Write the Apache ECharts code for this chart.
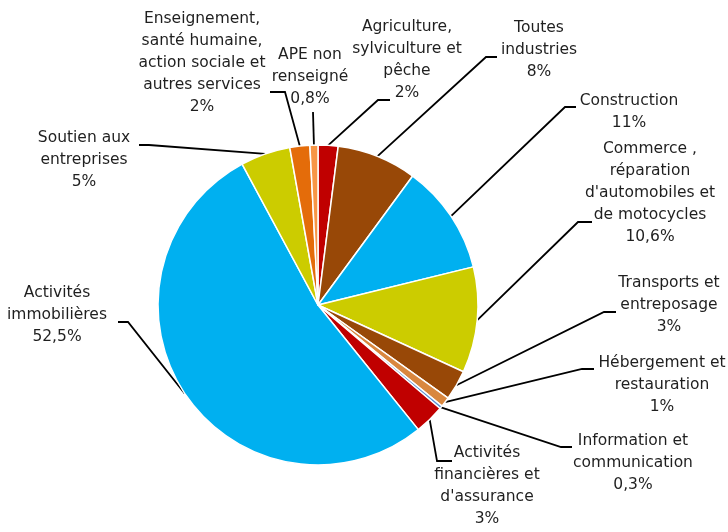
<!DOCTYPE html>
<html>
<head>
<meta charset="utf-8">
<title>Répartition par secteur</title>
<script src="https://cdn.jsdelivr.net/npm/echarts@6/dist/echarts.min.js"></script>
<style type="text/css">
body{
	margin:0;
	background-color:#ffffff;
}
#chart{
	width:728px;
	height:532px;
}
</style>
</head>
<body>
<div id="chart"></div>
<script type="text/javascript">
// secteurs, dans le sens des aiguilles d'une montre depuis midi
var secteurs = [
	"Agriculture,\nsylviculture et\npêche",
	"Toutes\nindustries",
	"Construction",
	"Commerce ,\nréparation\nd'automobiles et\nde motocycles",
	"Transports et\nentreposage",
	"Hébergement et\nrestauration",
	"Information et\ncommunication",
	"Activités\nfinancières et\nd'assurance",
	"Activités\nimmobilières",
	"Soutien aux\nentreprises",
	"Enseignement,\nsanté humaine,\naction sociale et\nautres services",
	"APE non\nrenseigné"
];
var parts = [2, 8, 11, 10.6, 3, 1, 0.3, 3, 52.5, 5, 2, 0.8];
var couleurs = ["#C00000", "#984807", "#00B0F0", "#CCCC00", "#984807", "#D9873F",
	"#558ED5", "#C00000", "#00B0F0", "#CCCC00", "#E46C0A", "#F79646"];
// centre de chaque étiquette
var posEtiquettes = [
	[407, 60], [539, 50], [629, 112], [650, 193], [669, 305], [662, 385],
	[633, 463], [487, 486], [57, 315], [84, 160], [202, 63], [310, 77]
];
// point d'attache du trait (décalage depuis le centre de l'étiquette) et longueur du palier horizontal
var ancrages = [
	[-17, 40, -12], [-42, 7, -11], [-53, -5, -11], [-58, 29, -14], [-53, 7, -12], [-68, -16, -12],
	[-61, -16, -11], [-35, -25, -15], [61, 7, 10], [55, -15, 10], [68, 29, 15], [3, 35, 0]
];

function pct(v){
	return String(v).replace('.', ',') + '%';
}

var myChart = echarts.init(document.getElementById('chart'));
var data = [];
for (var i = 0; i < secteurs.length; i++) {
	data.push({
		name: secteurs[i],
		value: parts[i],
		itemStyle: {color: couleurs[i]}
	});
}

var option = {
	animation: false,
	series: [{
		type: 'pie',
		center: [318, 305],
		radius: 160,
		startAngle: 90,
		clockwise: true,
		avoidLabelOverlap: false,
		itemStyle: {
			borderColor: '#ffffff',
			borderWidth: 1.5
		},
		label: {
			show: true,
			position: 'outside',
			fontFamily: 'DejaVu Sans',
			fontSize: 15.5,
			lineHeight: 22,
			color: '#1f1f1f',
			align: 'center',
			formatter: function (p) {
				return p.name + '\n' + pct(p.value);
			}
		},
		labelLine: {
			show: true,
			length: 10,
			length2: 12,
			lineStyle: {color: '#000000', width: 1.8}
		},
		labelLayout: function (p) {
			var pos = posEtiquettes[p.dataIndex];
			var a = ancrages[p.dataIndex];
			var res = {
				x: pos[0],
				y: pos[1],
				align: 'center',
				verticalAlign: 'middle'
			};
			if (p.labelLinePoints) {
				var bout = [pos[0] + a[0], pos[1] + a[1]];
				var coude = [bout[0] + a[2], bout[1]];
				res.labelLinePoints = [p.labelLinePoints[0], coude, bout];
			}
			return res;
		},
		data: data
	}]
};
myChart.setOption(option);
</script>
</body>
</html>
